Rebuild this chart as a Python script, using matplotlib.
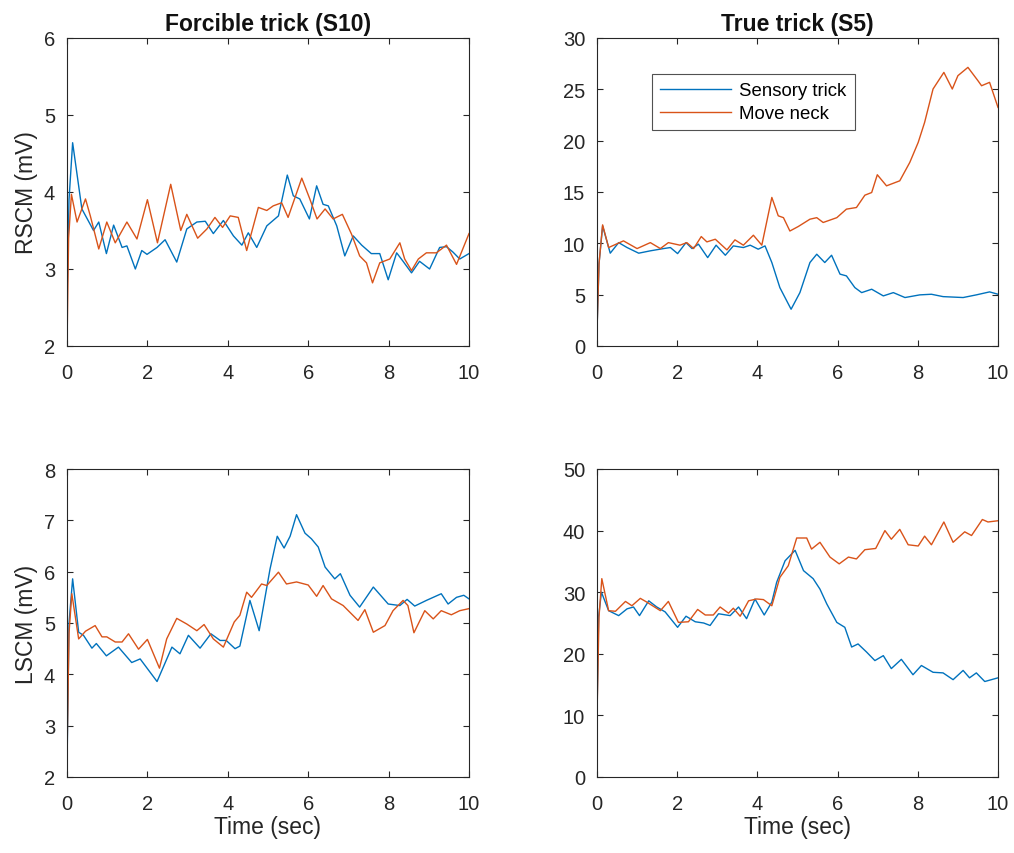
import matplotlib
matplotlib.use("Agg")
import matplotlib.pyplot as plt

plt.rcParams['font.family'] = ['Liberation Sans', 'DejaVu Sans']

# ---------------- data ----------------
# Forcible trick (S10), RSCM
t_fr_sens = [0.0, 0.05, 0.14, 0.37, 0.66, 0.79, 0.98, 1.16, 1.37, 1.49, 1.70, 1.86, 1.99, 2.24, 2.44, 2.73,
             2.98, 3.23, 3.44, 3.64, 3.89, 4.14, 4.35, 4.51, 4.72, 4.97, 5.26, 5.48, 5.63, 5.79, 6.03, 6.21,
             6.37, 6.50, 6.71, 6.91, 7.12, 7.33, 7.57, 7.78, 7.99, 8.20, 8.36, 8.57, 8.77, 9.02, 9.27, 9.44,
             9.60, 9.77, 10.0]
v_fr_sens = [2.6, 3.9, 4.64, 3.78, 3.50, 3.61, 3.20, 3.57, 3.28, 3.30, 3.00, 3.24, 3.19, 3.28, 3.38, 3.09,
             3.52, 3.61, 3.62, 3.46, 3.63, 3.43, 3.31, 3.47, 3.28, 3.56, 3.69, 4.22, 3.95, 3.91, 3.65, 4.08,
             3.84, 3.82, 3.56, 3.17, 3.43, 3.31, 3.20, 3.20, 2.86, 3.21, 3.10, 2.95, 3.10, 3.00, 3.28, 3.29,
             3.22, 3.13, 3.20]
t_fr_neck = [0.0, 0.04, 0.11, 0.25, 0.46, 0.58, 0.79, 0.99, 1.20, 1.49, 1.74, 2.00, 2.25, 2.58, 2.83, 2.98,
             3.25, 3.48, 3.68, 3.87, 4.06, 4.26, 4.47, 4.76, 4.97, 5.13, 5.34, 5.50, 5.84, 6.04, 6.22, 6.42,
             6.62, 6.85, 7.08, 7.28, 7.45, 7.60, 7.78, 8.03, 8.28, 8.40, 8.57, 8.74, 8.94, 9.19, 9.44, 9.69,
             10.0]
v_fr_neck = [2.0, 3.4, 3.97, 3.61, 3.91, 3.69, 3.26, 3.61, 3.34, 3.61, 3.39, 3.90, 3.34, 4.10, 3.50, 3.71,
             3.40, 3.52, 3.67, 3.54, 3.69, 3.67, 3.24, 3.80, 3.76, 3.82, 3.86, 3.67, 4.18, 3.91, 3.65, 3.78,
             3.65, 3.71, 3.45, 3.17, 3.08, 2.82, 3.08, 3.13, 3.34, 3.13, 2.98, 3.13, 3.21, 3.21, 3.31, 3.06,
             3.46]

# True trick (S5), RSCM
t_tr_sens = [0.0, 0.05, 0.14, 0.33, 0.54, 0.75, 1.04, 1.33, 1.66, 1.83, 2.01, 2.22, 2.37, 2.53, 2.76, 2.97,
             3.20, 3.40, 3.65, 3.82, 4.02, 4.19, 4.36, 4.56, 4.84, 5.06, 5.31, 5.48, 5.68, 5.85, 6.06, 6.22,
             6.43, 6.60, 6.85, 7.14, 7.39, 7.68, 8.05, 8.34, 8.63, 9.13, 9.46, 9.79, 10.0]
v_tr_sens = [1.5, 8.0, 11.7, 9.04, 10.07, 9.59, 9.04, 9.27, 9.49, 9.59, 9.00, 10.07, 9.49, 9.92, 8.61, 9.82,
             8.84, 9.75, 9.59, 9.82, 9.43, 9.75, 8.13, 5.69, 3.58, 5.20, 8.13, 8.94, 8.13, 8.84, 7.00, 6.83,
             5.69, 5.20, 5.53, 4.88, 5.20, 4.72, 4.98, 5.04, 4.81, 4.72, 4.98, 5.27, 5.04]
t_tr_neck = [0.0, 0.05, 0.14, 0.29, 0.66, 1.00, 1.33, 1.58, 1.78, 2.07, 2.24, 2.41, 2.60, 2.74, 2.95, 3.24,
             3.44, 3.65, 3.90, 4.11, 4.36, 4.52, 4.65, 4.81, 5.02, 5.31, 5.48, 5.64, 5.98, 6.22, 6.47, 6.68,
             6.85, 6.99, 7.22, 7.55, 7.80, 8.01, 8.17, 8.38, 8.65, 8.86, 9.00, 9.25, 9.50, 9.59, 9.79, 10.0]
v_tr_neck = [1.5, 8.0, 11.8, 9.59, 10.24, 9.49, 10.07, 9.49, 10.07, 9.82, 10.07, 9.49, 10.66, 10.14, 10.40, 9.36,
             10.34, 9.82, 10.79, 9.82, 14.47, 12.68, 12.50, 11.20, 11.64, 12.35, 12.50, 12.03, 12.50, 13.33, 13.49, 14.69,
             14.95, 16.68, 15.60, 16.09, 17.88, 19.83, 21.78, 25.03, 26.65, 25.03, 26.33, 27.14, 25.84, 25.35, 25.68, 23.24]

# Forcible trick (S10), LSCM
t_fl_sens = [0.0, 0.05, 0.14, 0.29, 0.41, 0.62, 0.73, 0.98, 1.28, 1.61, 1.82, 2.24, 2.61, 2.81, 3.02, 3.31,
             3.58, 3.81, 3.96, 4.18, 4.30, 4.55, 4.78, 5.05, 5.23, 5.40, 5.55, 5.71, 5.92, 6.08, 6.25, 6.42,
             6.66, 6.80, 7.04, 7.28, 7.62, 7.99, 8.28, 8.46, 8.65, 8.94, 9.31, 9.48, 9.69, 9.87, 10.0]
v_fl_sens = [2.2, 5.0, 5.86, 4.82, 4.76, 4.51, 4.60, 4.36, 4.53, 4.23, 4.30, 3.86, 4.53, 4.40, 4.76, 4.51,
             4.79, 4.66, 4.66, 4.50, 4.55, 5.44, 4.85, 6.05, 6.69, 6.46, 6.69, 7.11, 6.75, 6.64, 6.48, 6.09,
             5.86, 5.96, 5.54, 5.31, 5.70, 5.37, 5.34, 5.46, 5.33, 5.44, 5.57, 5.37, 5.50, 5.54, 5.47]
t_fl_neck = [0.0, 0.05, 0.12, 0.29, 0.46, 0.70, 0.87, 0.99, 1.20, 1.37, 1.53, 1.78, 2.00, 2.30, 2.48, 2.73,
             2.98, 3.23, 3.41, 3.64, 3.89, 4.16, 4.30, 4.47, 4.59, 4.84, 4.97, 5.26, 5.46, 5.71, 6.00, 6.21,
             6.37, 6.58, 6.87, 7.24, 7.41, 7.62, 7.91, 8.11, 8.36, 8.48, 8.63, 8.90, 9.11, 9.31, 9.56, 9.77,
             10.0]
v_fl_neck = [2.4, 4.8, 5.57, 4.69, 4.84, 4.95, 4.73, 4.73, 4.63, 4.63, 4.79, 4.49, 4.68, 4.12, 4.69, 5.09,
             4.98, 4.85, 4.97, 4.69, 4.53, 5.02, 5.15, 5.60, 5.50, 5.76, 5.73, 5.99, 5.76, 5.80, 5.74, 5.52,
             5.73, 5.47, 5.34, 5.05, 5.26, 4.82, 4.95, 5.24, 5.44, 5.34, 4.81, 5.24, 5.08, 5.24, 5.16, 5.24,
             5.28]

# True trick (S5), LSCM
t_tl_sens = [0.0, 0.04, 0.11, 0.29, 0.54, 0.75, 0.91, 1.06, 1.29, 1.49, 1.70, 2.01, 2.22, 2.45, 2.66, 2.82,
             3.03, 3.32, 3.53, 3.73, 3.94, 4.17, 4.36, 4.48, 4.69, 4.94, 5.15, 5.39, 5.56, 5.73, 5.98, 6.18,
             6.35, 6.51, 6.72, 6.93, 7.14, 7.34, 7.59, 7.88, 8.09, 8.38, 8.63, 8.88, 9.13, 9.29, 9.46, 9.67,
             10.0]
v_tl_sens = [10.0, 26.0, 30.0, 27.0, 26.2, 27.3, 27.6, 26.2, 28.6, 27.6, 26.8, 24.3, 26.1, 25.2, 25.0, 24.6,
             26.5, 26.2, 27.6, 25.7, 28.9, 26.3, 28.4, 31.6, 35.1, 36.8, 33.5, 32.2, 30.5, 28.1, 25.1, 24.3,
             21.1, 21.6, 20.3, 18.9, 19.7, 17.6, 19.1, 16.6, 18.1, 17.0, 16.9, 15.8, 17.3, 16.1, 16.9, 15.5,
             16.1]
t_tl_neck = [0.0, 0.05, 0.12, 0.29, 0.46, 0.71, 0.87, 1.08, 1.24, 1.58, 1.78, 2.03, 2.28, 2.51, 2.70, 2.90,
             3.07, 3.28, 3.40, 3.57, 3.78, 3.98, 4.15, 4.36, 4.56, 4.77, 4.98, 5.23, 5.35, 5.56, 5.81, 6.04,
             6.27, 6.47, 6.68, 6.95, 7.18, 7.34, 7.55, 7.76, 8.01, 8.17, 8.34, 8.65, 8.88, 9.17, 9.34, 9.61,
             9.75, 10.0]
v_tl_neck = [10.0, 26.0, 32.2, 27.0, 26.9, 28.5, 27.8, 29.0, 28.4, 27.0, 28.5, 25.1, 25.2, 27.2, 26.3, 26.3,
             27.6, 26.6, 27.4, 26.1, 28.6, 28.9, 28.8, 27.8, 32.4, 34.3, 38.8, 38.8, 37.0, 38.1, 35.7, 34.6,
             35.7, 35.4, 36.9, 37.1, 40.0, 38.6, 40.2, 37.7, 37.5, 39.1, 37.7, 41.4, 38.1, 39.8, 39.2, 41.8,
             41.4, 41.6]

titles = ["Forcible trick (S10)", "True trick (S5)"]
ylabels = ["RSCM (mV)", "LSCM (mV)"]
xlabel = "Time (sec)"
legend_labels = ["Sensory trick", "Move neck"]
xticks = [0, 2, 4, 6, 8, 10]
yticks_list = [[2, 3, 4, 5, 6], [0, 5, 10, 15, 20, 25, 30],
               [2, 3, 4, 5, 6, 7, 8], [0, 10, 20, 30, 40, 50]]

blue = "#0072BD"
orange = "#D95319"
axcol = "#262626"

fig = plt.figure(figsize=(10.14, 8.54), dpi=100)
W, H = 1014.0, 854.0
boxes = [(67, 39, 469, 347), (597, 39, 998, 347), (67, 470, 469, 778), (597, 470, 998, 778)]
series = [(t_fr_sens, v_fr_sens, t_fr_neck, v_fr_neck),
          (t_tr_sens, v_tr_sens, t_tr_neck, v_tr_neck),
          (t_fl_sens, v_fl_sens, t_fl_neck, v_fl_neck),
          (t_tl_sens, v_tl_sens, t_tl_neck, v_tl_neck)]

for i, (box, s) in enumerate(zip(boxes, series)):
    x0, y0, x1, y1 = box
    ax = fig.add_axes([x0 / W, 1 - y1 / H, (x1 - x0) / W, (y1 - y0) / H])
    ax.plot(s[0], s[1], color=blue, lw=1.0, label=legend_labels[0])
    ax.plot(s[2], s[3], color=orange, lw=1.0, label=legend_labels[1])
    yt = yticks_list[i]
    ax.set_xlim(0, 10)
    ax.set_ylim(yt[0], yt[-1])
    ax.set_xticks(xticks)
    ax.set_yticks(yt)
    ax.tick_params(direction='in', top=True, right=True, length=4, width=0.8,
                   colors=axcol, labelsize=14.5, labelcolor=axcol)
    ax.tick_params(axis='x', pad=12.5)
    ax.tick_params(axis='y', pad=8.5)
    for sp in ax.spines.values():
        sp.set_color(axcol)
        sp.set_linewidth(0.8)
    if i < 2:
        ax.set_title(titles[i], fontsize=16.5, fontweight='bold', color='#111111', pad=6)
    if i % 2 == 0:
        ax.set_ylabel(ylabels[i // 2], fontsize=16.5, color=axcol, labelpad=4)
    if i >= 2:
        ax.set_xlabel(xlabel, fontsize=16.5, color=axcol, labelpad=1)
    if i == 1:
        leg = ax.legend(loc='upper left', bbox_to_anchor=((652 - x0) / (x1 - x0), 1 - (75 - y0) / (y1 - y0)),
                        fontsize=13.4, frameon=True, fancybox=False, borderaxespad=0,
                        handlelength=3.8, handletextpad=0.45, borderpad=0.45, labelspacing=0.3)
        leg.get_frame().set_edgecolor(axcol)
        leg.get_frame().set_linewidth(0.8)

fig.savefig("out.png", dpi=100, facecolor='white')
